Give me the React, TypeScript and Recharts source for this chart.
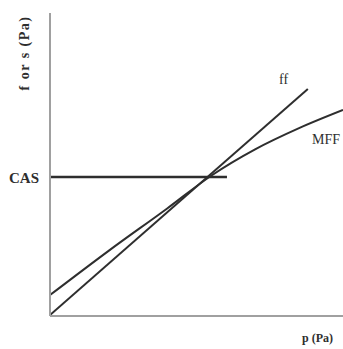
import { LineChart, Line, XAxis, YAxis, ReferenceLine } from "recharts";

// schematic units: x and y both run 0..100
const ffX = [0, 88];
const ffY = [0.3, 74.9];

const mffX = [0, 20, 40, 55, 70, 85, 100];
const mffY = [6.9, 21.5, 35.5, 46.3, 55, 62, 68];

const casLevel = 45.9;
const casEnd = 60.4;

const ffData = ffX.map((x, i) => ({ x, ff: ffY[i] }));
const mffData = mffX.map((x, i) => ({ x, mff: mffY[i] }));

const serif = "'Liberation Serif', 'DejaVu Serif', serif";
const ink = "#2e2e2e";

const Lbl = ({ x, y, text, size, bold, style }: any) => (
  <div
    style={{
      position: "absolute",
      left: x,
      top: y,
      fontFamily: serif,
      fontSize: size,
      fontWeight: bold ? 700 : 400,
      color: ink,
      lineHeight: 1,
      whiteSpace: "nowrap",
      ...style,
    }}
  >
    {text}
  </div>
);

export default function App() {
  return (
    <div style={{ position: "absolute", left: 0, top: 0, width: 343, height: 349, background: "#fff" }}>
      <LineChart width={343} height={349} margin={{ top: 13, right: 0, bottom: 0, left: 0 }}>
        <XAxis
          type="number"
          dataKey="x"
          domain={[0, 100]}
          allowDataOverflow
          tick={false}
          tickLine={false}
          height={33}
          axisLine={{ stroke: "#a0a0a0", strokeWidth: 2 }}
        />
        <YAxis
          type="number"
          domain={[0, 100]}
          allowDataOverflow
          tick={false}
          tickLine={false}
          width={50}
          axisLine={{ stroke: "#a0a0a0", strokeWidth: 2 }}
        />
        <ReferenceLine
          segment={[
            { x: 0, y: casLevel },
            { x: casEnd, y: casLevel },
          ]}
          stroke={ink}
          strokeWidth={2.5}
        />
        <Line
          data={ffData}
          dataKey="ff"
          type="linear"
          stroke={ink}
          strokeWidth={2}
          dot={false}
          isAnimationActive={false}
        />
        <Line
          data={mffData}
          dataKey="mff"
          type="monotone"
          stroke={ink}
          strokeWidth={2}
          dot={false}
          isAnimationActive={false}
        />
      </LineChart>
      <Lbl x={9} y={171} text="CAS" size={15} bold />
      <Lbl x={279} y={73} text="ff" size={14} />
      <Lbl x={312} y={133} text="MFF" size={14} />
      <Lbl x={302} y={332} text="p (Pa)" size={12} bold />
      <Lbl
        x={25}
        y={53}
        text="f or s (Pa)"
        size={14}
        bold
        style={{ transform: "translate(-50%, -50%) rotate(-90deg)", letterSpacing: 1.5 }}
      />
    </div>
  );
}
